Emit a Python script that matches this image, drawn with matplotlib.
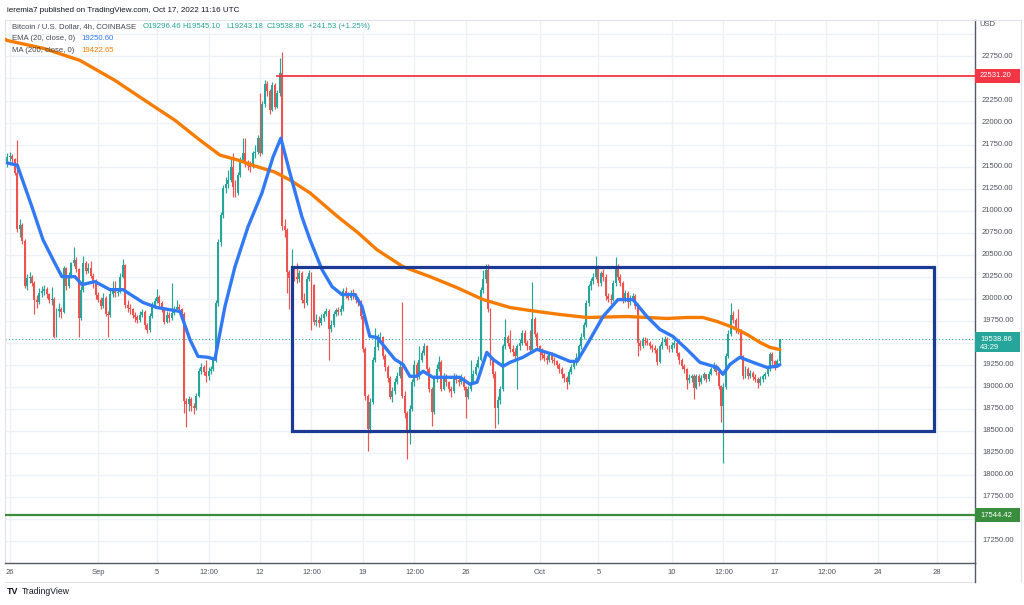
import numpy as np
import pandas as pd
import matplotlib.pyplot as plt
import matplotlib.transforms as mtransforms
from matplotlib.patches import Rectangle

plt.rcParams['font.family'] = ['Liberation Sans', 'DejaVu Sans']

# BTCUSD 4h bars, first bar Aug 25 2022 20:00 UTC
start = '2022-08-25 20:00'
first_open = 21540

closes = [
    21610, 21620, 21590, 21430, 20790, 20840,
    20660, 20150, 20230, 20250, 20180, 19990,
    19960, 20060, 20090, 20110, 20050, 19980,
    20000, 19570, 19860, 19880, 19850, 20350,
    20150, 20270, 20400, 20440, 20340, 19780,
    20100, 20410, 20310, 20350, 20260, 20200,
    20040, 19990, 19920, 20010, 19830, 19810,
    20050, 20090, 20060, 20080, 20250, 20380,
    19930, 19900, 19880, 19820, 19790, 19760,
    19820, 19850, 19700, 19640, 19800, 19930,
    19970, 20020, 19950, 19880, 19740, 19820,
    19780, 19840, 19880, 19910, 19880, 19830,
    18840, 18810, 18860, 18780, 18760, 18900,
    19180, 19230, 19170, 19120, 19180, 19200,
    19300, 19950, 20640, 20950, 21260, 21300,
    21350, 21490, 21270, 21200, 21400, 21570,
    21650, 21540, 21510, 21500, 21650, 21660,
    21830, 21650, 22210, 22440, 22360, 22140,
    22430, 22180, 22330, 22560, 20820, 20780,
    20300, 20230, 20330, 20250, 20220, 20290,
    19990, 19950, 20220, 20290, 20160, 19740,
    19760, 19730, 19780, 19830, 19860, 19660,
    19700, 19830, 19870, 19850, 19880, 20090,
    20060, 20010, 20070, 20040, 19990, 19960,
    19800, 19430, 18900, 18520, 18830, 19310,
    19450, 19540, 19570, 19350, 19230, 19100,
    18890, 18950, 19060, 19120, 19230, 18900,
    18700, 18500, 18750, 19050, 19250, 19120,
    19310, 19380, 19460, 19200, 18980, 18710,
    19090, 19200, 19280, 18980, 19120, 19050,
    18980, 18950, 19120, 19080, 19050, 19100,
    19000, 18890, 18970, 19050, 19150, 19230,
    19310, 20100, 20220, 20330, 19880, 19300,
    19150, 18760, 18850, 18970, 19460, 19560,
    19500, 19430, 19390, 19350, 19460, 19500,
    19610, 19500, 19460, 19420, 19770, 19600,
    19460, 19420, 19360, 19330, 19300, 19370,
    19310, 19290, 19250, 19200, 19140, 19100,
    19060, 19170, 19230, 19280, 19330, 19460,
    19570, 19700, 19950, 20140, 20200, 20250,
    20360, 20180, 20290, 20250, 20030, 20000,
    19990, 20180, 20360, 20250, 20180, 19990,
    20070, 19960, 20000, 20030, 19920, 19500,
    19460, 19530, 19520, 19500, 19460, 19440,
    19420, 19280, 19460, 19510, 19540, 19460,
    19425, 19470, 19500, 19380, 19310, 19240,
    19200, 19080, 19100, 19120, 18990, 19120,
    19050, 19100, 19140, 19090, 19150, 19200,
    19240, 19170, 19010, 18780, 19000, 19350,
    19600, 19820, 19760, 19650, 19640, 19350,
    19120, 19200, 19120, 19160, 19110, 19090,
    19040, 19090, 19120, 19140, 19200, 19370,
    19290, 19230, 19296.46, 19538.86,
]

highs = [
    21650, 21660, 21640, 21600, 21800, 20900,
    20860, 20680, 20280, 20300, 20270, 20200,
    20040, 20120, 20150, 20160, 20130, 20070,
    20130, 20020, 19900, 19950, 19910, 20370,
    20360, 20300, 20420, 20590, 20470, 20350,
    20150, 20480, 20430, 20400, 20430, 20290,
    20220, 20080, 20020, 20060, 20030, 19860,
    20100, 20200, 20200, 20120, 20290, 20450,
    20390, 19980, 19940, 19900, 19850, 19820,
    19860, 19880, 19870, 19720, 19840, 19960,
    20010, 20110, 20040, 19970, 19900, 19860,
    19850, 20180, 19920, 19980, 19940, 19900,
    19850, 18870, 18900, 18880, 18820, 18930,
    19210, 19270, 19250, 19310, 19230, 19240,
    19320, 19980, 20680, 20990, 21290, 21380,
    21460, 21610, 21650, 21350, 21440, 21610,
    21820, 21830, 21570, 21560, 21680, 21740,
    21860, 22330, 22250, 22480, 22470, 22380,
    22460, 22450, 22370, 22730, 22800, 20900,
    20800, 20330, 20560, 20360, 20410, 20330,
    20310, 20070, 20260, 20330, 20300, 20170,
    19830, 19800, 19830, 19860, 19900, 19880,
    19760, 19860, 19900, 19910, 19930, 20120,
    20130, 20080, 20100, 20110, 20060, 20020,
    19980, 19820, 19450, 18920, 18870, 19340,
    19670, 19600, 19620, 19580, 19370, 19250,
    19120, 19000, 19100, 19170, 19280, 19960,
    18950, 18730, 18790, 19090, 19300, 19280,
    19460, 19420, 19500, 19470, 19230, 19000,
    19130, 19260, 19350, 19300, 19160, 19140,
    19070, 19010, 19160, 19150, 19110, 19140,
    19120, 19010, 19010, 19310, 19190, 19270,
    19350, 20130, 20330, 20390, 20390, 19900,
    19340, 19180, 18900, 19010, 19490, 19770,
    19590, 19650, 19470, 19440, 19490, 19540,
    19650, 19650, 19530, 19650, 20190, 19790,
    19620, 19480, 19440, 19390, 19360, 19400,
    19390, 19340, 19310, 19270, 19220, 19160,
    19120, 19200, 19260, 19310, 19380, 19490,
    19610, 19740, 19980, 20170, 20240, 20290,
    20480, 20380, 20320, 20340, 20280, 20060,
    20050, 20210, 20470, 20390, 20280, 20200,
    20100, 20090, 20040, 20070, 20050, 19950,
    19530, 19570, 19560, 19550, 19520, 19490,
    19470, 19440, 19490, 19560, 19580, 19560,
    19480, 19510, 19530, 19510, 19400, 19330,
    19260, 19210, 19140, 19150, 19150, 19150,
    19140, 19130, 19170, 19150, 19180, 19230,
    19280, 19260, 19180, 19020, 19040, 19380,
    19640, 19950, 19860, 19780, 19880, 19660,
    19360, 19240, 19220, 19190, 19180, 19140,
    19110, 19120, 19150, 19170, 19230, 19390,
    19400, 19300, 19320, 19545.10,
]

lows = [
    21500, 21560, 21540, 21400, 20760, 20700,
    20620, 20120, 20100, 20180, 20140, 19830,
    19900, 19940, 20020, 20040, 20010, 19950,
    19930, 19550, 19560, 19790, 19780, 19840,
    20100, 20120, 20230, 20370, 20300, 19560,
    19760, 20080, 20280, 20290, 20230, 20120,
    20000, 19960, 19880, 19900, 19800, 19570,
    19790, 20020, 20020, 20030, 20060, 20230,
    19900, 19850, 19830, 19780, 19740, 19720,
    19740, 19790, 19660, 19610, 19620, 19780,
    19900, 19950, 19920, 19850, 19710, 19720,
    19740, 19760, 19810, 19860, 19850, 19800,
    18700, 18540, 18720, 18720, 18690, 18740,
    18880, 19140, 19130, 19050, 19080, 19140,
    19180, 19280, 19920, 20600, 20920, 21200,
    21260, 21330, 21150, 21150, 21180, 21380,
    21550, 21500, 21460, 21440, 21480, 21600,
    21640, 21620, 21640, 22180, 22300, 22100,
    22130, 22150, 22160, 22300, 20780, 20700,
    20070, 19880, 20200, 20200, 20180, 20190,
    19950, 19900, 19930, 20200, 19650, 19700,
    19690, 19680, 19700, 19750, 19800, 19310,
    19620, 19680, 19800, 19810, 19820, 19860,
    20010, 19980, 19990, 20000, 19950, 19920,
    19770, 19400, 18850, 18270, 18480, 18800,
    19280, 19420, 19500, 19320, 19180, 19050,
    18860, 18830, 18920, 19030, 19100, 18870,
    18650, 18180, 18350, 18720, 19010, 19080,
    19090, 19280, 19360, 19170, 18940, 18560,
    18690, 19060, 19180, 18950, 18960, 19010,
    18940, 18880, 18930, 19040, 19010, 19030,
    18960, 18650, 18860, 18950, 19030, 19130,
    19210, 19290, 20060, 20180, 19850, 19250,
    19100, 18530, 18580, 18800, 18950, 19430,
    19460, 19400, 19350, 19310, 18970, 19420,
    19470, 19470, 19420, 19380, 19400, 19560,
    19420, 19310, 19320, 19290, 19260, 19280,
    19270, 19250, 19210, 19160, 19100, 19050,
    18980, 19030, 19140, 19200, 19250, 19300,
    19430, 19540, 19680, 19920, 20100, 20170,
    20220, 20140, 20150, 20200, 19990, 19960,
    19940, 19970, 20150, 20210, 20140, 19950,
    19960, 19890, 19930, 19970, 19880, 19350,
    19420, 19440, 19480, 19470, 19430, 19400,
    19380, 19250, 19270, 19430, 19480, 19430,
    19390, 19400, 19440, 19350, 19260, 19200,
    19160, 18970, 19040, 19060, 18860, 18970,
    19010, 19030, 19080, 19060, 19070, 19130,
    19180, 19130, 18970, 18600, 18140, 18980,
    19330, 19580, 19720, 19610, 19600, 19320,
    19090, 19100, 19090, 19100, 19080, 19060,
    18990, 19020, 19060, 19090, 19120, 19180,
    19250, 19190, 19220, 19243.18,
]

# EMA(20) and MA(200) at bar positions
ema_idx = [0, 4, 10, 14.5, 18.6, 22.2, 27.5, 30.4, 35.7, 41.8, 47.1, 55.3, 61, 70.4,
           74.4, 77.7, 81.8, 84.6, 88.7, 92.8, 98.1, 103.8, 108.3, 111.5, 115.2, 120.1,
           123.4, 128.3, 132.4, 136.4, 141.7, 144.6, 147.8, 150.7, 158, 161.3, 164.1,
           167, 169.5, 173.5, 180.5, 184.5, 188.6, 191.5, 195.5, 198, 202.1, 205, 210.2,
           215.9, 222.5, 229.4, 232.3, 237.6, 242.9, 249, 255.1, 260.8, 266.1, 271.4,
           277.1, 282.4, 289.4, 291.8, 294.7, 298.7, 304, 309.7, 313.8, 315]
ema_val = [21540, 21517, 21042, 20669, 20443, 20251, 20251, 20160, 20194, 20103, 20103,
           19957, 19900, 19855, 19538, 19346, 19335, 19312, 19911, 20364, 20816, 21201,
           21608, 21823, 21427, 20929, 20669, 20330, 20137, 20047, 20047, 19911, 19572,
           19561, 19312, 19255, 19120, 19120, 19176, 19108, 19108, 19108, 19029, 19052,
           19391, 19312, 19233, 19278, 19335, 19425, 19368, 19289, 19289, 19538, 19798,
           19990, 19990, 19798, 19651, 19572, 19425, 19278, 19221, 19142, 19255, 19335,
           19278, 19221, 19233, 19250.60]

ma_idx = [-1, 0, 15, 29.6, 43.8, 56, 68.3, 78.5, 86.7, 94, 101, 109, 115.2, 123.4, 134.8,
          143, 150.7, 161.3, 172.3, 183.3, 194, 205, 216, 225.3, 236.3, 252.7, 269, 277.1,
          283.6, 289.4, 295.9, 301.6, 306.9, 311, 315]
ma_val = [22945, 22931, 22840, 22705, 22479, 22252, 22026, 21800, 21630, 21574, 21506,
          21438, 21348, 21201, 20929, 20748, 20556, 20364, 20251, 20126, 19990, 19900,
          19855, 19821, 19787, 19798, 19776, 19787, 19787, 19742, 19674, 19595, 19504,
          19448, 19422.65]

resistance = 22531.20
support = 17544.42
last_price = 19538.86
range_top, range_bottom = 20360, 18500
range_start, range_end = '2022-09-14 04:00', '2022-10-27 20:00'
res_start = '2022-09-13 00:00'

tick_dates = ['2022-08-26', '2022-09-01', '2022-09-05', '2022-09-08 12:00', '2022-09-12',
              '2022-09-15 12:00', '2022-09-19', '2022-09-22 12:00', '2022-09-26',
              '2022-10-01', '2022-10-05', '2022-10-10', '2022-10-13 12:00', '2022-10-17',
              '2022-10-20 12:00', '2022-10-24', '2022-10-28']
tick_labels = ['26', 'Sep', '5', '12:00', '12', '12:00', '19', '12:00', '26', 'Oct', '5',
               '10', '12:00', '17', '12:00', '24', '28']
price_labels = [17250, 17750, 18000, 18250, 18500, 18750, 19000, 19250, 19750, 20000,
                20250, 20500, 20750, 21000, 21250, 21500, 21750, 22000, 22250, 22750]

UP, DOWN = '#26a69a', '#ef5350'
GRID = '#eef1f6'
TXT = '#50535e'


def bar_pos(d):
    return (pd.Timestamp(d) - pd.Timestamp(start)) / pd.Timedelta('4h')


W, H = 1024, 605
fig = plt.figure(figsize=(W / 100, H / 100), dpi=100)
ax = fig.add_axes([5 / W, 1 - 563 / H, 970 / W, 543 / H])
ax.set_xlim(-1.0, 394.6)
ax.set_ylim(17000, 23164)

c = np.array(closes, dtype=float)
o = np.concatenate([[first_open], c[:-1]])
hi = np.array(highs, dtype=float)
lo = np.array(lows, dtype=float)
idx = np.arange(len(c))
cols = np.where(c >= o, UP, DOWN)

# grid
for p in np.arange(17000, 23250, 250):
    ax.axhline(p, color=GRID, lw=1, zorder=0)
tick_x = [bar_pos(d) for d in tick_dates]
for x in tick_x:
    ax.axvline(x, color=GRID, lw=1, zorder=0)

# candles
ax.vlines(idx, lo, hi, colors=cols, lw=0.85, zorder=2)
ax.bar(idx, np.maximum(np.abs(c - o), 12), bottom=np.minimum(o, c), width=0.8,
       color=cols, lw=0, zorder=3)

# moving averages
ax.plot(ma_idx, ma_val, color='#f57c00', lw=2.4, zorder=4, solid_capstyle='round')
ax.plot(ema_idx, ema_val, color='#3179f5', lw=2.4, zorder=4, solid_capstyle='round')

# drawings
ax.plot([bar_pos(res_start) + 0.8, 394.6], [resistance] * 2, color='#f23645', lw=1.3, zorder=5)
ax.axhline(support, color='#388e3c', lw=1.6, zorder=5)
ax.axhline(last_price, color=UP, lw=0.8, ls=(0, (1, 2)), zorder=1)
x0, x1 = bar_pos(range_start), bar_pos(range_end)
ax.add_patch(Rectangle((x0, range_bottom), x1 - x0, range_top - range_bottom,
                       fill=False, edgecolor='#1b3a93', lw=2.3, zorder=6))

# frame
for s in ['top', 'left']:
    ax.spines[s].set_color('#e0e3eb')
    ax.spines[s].set_linewidth(0.8)
for s in ['bottom', 'right']:
    ax.spines[s].set_color('#555a66')
    ax.spines[s].set_linewidth(1.0)
ax.set_xticks([])
ax.set_yticks([])

# price scale
ytr = mtransforms.blended_transform_factory(ax.transAxes, ax.transData)
for p in price_labels:
    ax.text(1 + 7 / 970, p, f'{p:.2f}', transform=ytr, fontsize=5.5, color=TXT,
            va='center', ha='left', clip_on=False)
fig.text(979 / W, 1 - 25 / H, 'USD', fontsize=5.5, color=TXT, va='center')

per_px = (23164 - 17000) / 543.0
bw = 45 / 970
for price, txt, fc, nlines in [(resistance, f'{resistance:.2f}', '#f23645', 1),
                               (support, f'{support:.2f}', '#388e3c', 1),
                               (last_price, f'{last_price:.2f}', UP, 2)]:
    top = price + 7 * per_px
    hgt = (14 if nlines == 1 else 20) * per_px
    ax.add_patch(Rectangle((1.0, top - hgt), bw, hgt, transform=ytr, color=fc,
                           clip_on=False, zorder=10, lw=0))
    ax.text(1 + 5 / 970, price, txt, transform=ytr, fontsize=5.5, color='white',
            va='center', ha='left', clip_on=False, zorder=11)
    if nlines == 2:
        ax.text(1 + 5 / 970, price - 8.5 * per_px, '43:29', transform=ytr, fontsize=5.5,
                color='white', va='center', ha='left', clip_on=False, zorder=11)

# time scale
xtr = mtransforms.blended_transform_factory(ax.transData, ax.transAxes)
for x, lab in zip(tick_x, tick_labels):
    ax.text(x, -9 / 543, lab, transform=xtr, fontsize=5.5, color=TXT, ha='center',
            va='center', clip_on=False)
fig.add_artist(plt.Line2D([5 / W, 975 / W], [1 - 582 / H] * 2, color='#e0e3eb', lw=0.8))
fig.add_artist(plt.Line2D([975 / W, 975 / W], [1 - 582 / H, 1 - 563 / H], color='#555a66', lw=1.0))
fig.add_artist(plt.Line2D([975 / W, 1021 / W], [1 - 20 / H] * 2, color='#e0e3eb', lw=0.8))
fig.add_artist(plt.Line2D([1021 / W, 1021 / W], [1 - 582 / H, 1 - 20 / H], color='#e0e3eb', lw=0.8))

# header texts
fig.text(7 / W, 1 - 10 / H, 'ieremia7 published on TradingView.com, Oct 17, 2022 11:16 UTC',
         fontsize=5.8, color='#131722', va='center')
fig.text(12 / W, 1 - 27 / H, 'Bitcoin / U.S. Dollar, 4h, COINBASE', fontsize=5.6,
         color='#434651', va='center')
for xp, t in [(143, 'O19296.46'), (182, 'H19545.10'), (226, 'L19243.18'),
              (267, 'C19538.86'), (308, '+241.53 (+1.25%)')]:
    fig.text(xp / W, 1 - 27 / H, t, fontsize=5.6, color=UP, va='center')
fig.text(12 / W, 1 - 39 / H, 'EMA (20, close, 0)', fontsize=5.6, color='#434651', va='center')
fig.text(81 / W, 1 - 39 / H, '19250.60', fontsize=5.6, color='#3179f5', va='center')
fig.text(12 / W, 1 - 51 / H, 'MA (200, close, 0)', fontsize=5.6, color='#434651', va='center')
fig.text(81 / W, 1 - 51 / H, '19422.65', fontsize=5.6, color='#f57c00', va='center')

# footer logo
fig.text(7 / W, 1 - 592 / H, 'TV', fontsize=6.5, fontweight='heavy', color='#131722', va='center')
fig.text(22 / W, 1 - 592 / H, 'TradingView', fontsize=6.2, color='#131722', va='center')

fig.savefig('out.png', dpi=100, facecolor='white')
